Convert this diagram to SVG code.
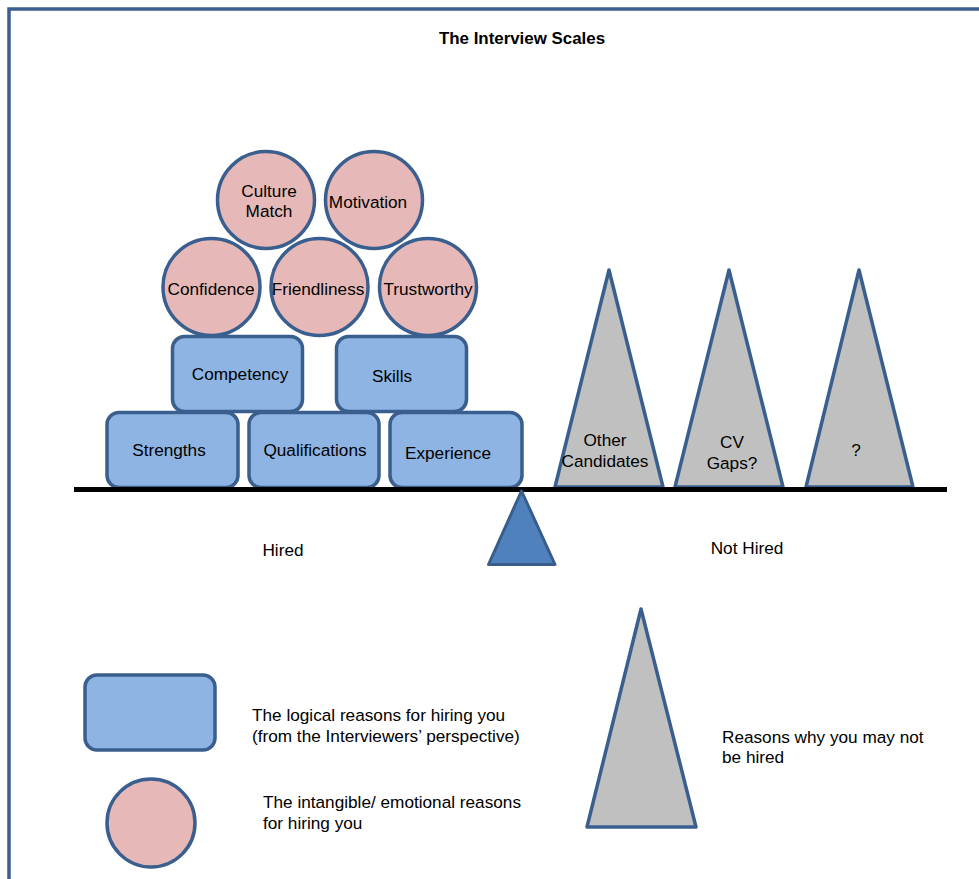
<svg xmlns="http://www.w3.org/2000/svg" width="979" height="879" viewBox="0 0 979 879">
<style>
text{font-family:"Liberation Sans",Arial,sans-serif;font-size:17.2px;fill:#000;text-anchor:middle;dominant-baseline:central}
.l{text-anchor:start}
.c{fill:#e6b9b8;stroke:#3a5f8f;stroke-width:3.5}
.r{fill:#8eb4e3;stroke:#3a5f8f;stroke-width:3.5}
.t{fill:#c0c0c0;stroke:#3a5f8f;stroke-width:3.5;stroke-linejoin:round}
</style>
<rect width="979" height="879" fill="#fff"/>
<path d="M9,879 V9 H979" fill="none" stroke="#3d5f8f" stroke-width="3.5"/>
<text x="522" y="38" style="font-weight:bold;font-size:16.9px">The Interview Scales</text>
<g id="culture"><circle class="c" cx="266" cy="200" r="48.5"/><text x="269" y="191">Culture</text><text x="269" y="211">Match</text></g>
<g id="motivation"><circle class="c" cx="374" cy="200" r="48.5"/><text x="368" y="202">Motivation</text></g>
<g id="confidence"><circle class="c" cx="211.5" cy="287" r="48.5"/><text x="211" y="289">Confidence</text></g>
<g id="friendliness"><circle class="c" cx="319.5" cy="287" r="48.5"/><text x="318" y="289">Friendliness</text></g>
<g id="trustworthy"><circle class="c" cx="428" cy="287" r="48.5"/><text x="428" y="289">Trustworthy</text></g>
<g id="competency"><rect class="r" x="172.5" y="336.5" width="130" height="75" rx="12"/><text x="240" y="374">Competency</text></g>
<g id="skills"><rect class="r" x="336.5" y="336.5" width="130" height="75" rx="12"/><text x="392" y="376">Skills</text></g>
<g id="strengths"><rect class="r" x="107" y="412.5" width="131" height="75" rx="12"/><text x="169" y="450">Strengths</text></g>
<g id="qualifications"><rect class="r" x="249" y="412.5" width="130" height="75" rx="12"/><text x="315" y="450">Qualifications</text></g>
<g id="experience"><rect class="r" x="390" y="412.5" width="132" height="75" rx="12"/><text x="448" y="453">Experience</text></g>
<g id="other"><polygon class="t" points="609,270 663,487 555,487"/><text x="605" y="440">Other</text><text x="605" y="461">Candidates</text></g>
<g id="cvgaps"><polygon class="t" points="729,270 783,487 675,487"/><text x="732" y="442">CV</text><text x="732" y="463">Gaps?</text></g>
<g id="unknown"><polygon class="t" points="859,270 913,487 806,487"/><text x="856" y="450">?</text></g>
<g id="beam"><line x1="74" y1="489.5" x2="947" y2="489.5" stroke="#000" stroke-width="5"/></g>
<g id="fulcrum"><polygon points="521.5,491 555,564.5 488.5,564.5" fill="#4f81bd" stroke="#385d8a" stroke-width="3" stroke-linejoin="round"/></g>
<text x="283" y="550">Hired</text>
<text x="747" y="548">Not Hired</text>
<g id="legend-rect"><rect class="r" x="85" y="675" width="130" height="75" rx="12"/><text class="l" x="252" y="715">The logical reasons for hiring you</text><text class="l" x="252" y="736">(from the Interviewers’ perspective)</text></g>
<g id="legend-circle"><circle class="c" cx="151" cy="823" r="44"/><text class="l" x="263" y="802">The intangible/ emotional reasons</text><text class="l" x="263" y="823">for hiring you</text></g>
<g id="legend-tri"><polygon class="t" points="641,609 696,827 587,827"/><text class="l" x="722" y="737">Reasons why you may not</text><text class="l" x="722" y="757">be hired</text></g>
</svg>
